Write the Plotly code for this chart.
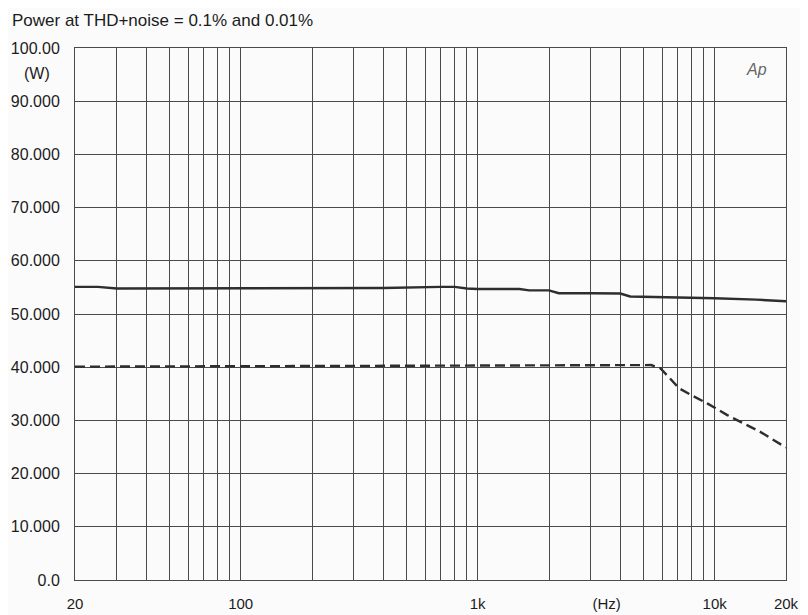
import plotly.graph_objects as go

# data
freq_solid = [20, 25, 30, 40, 60, 100, 200, 400, 700, 800, 900, 1000, 1500, 1650, 2000, 2200, 3000, 4000, 4400, 5000, 7000, 10000, 15000, 20000]
power_01 = [55.1, 55.1, 54.8, 54.8, 54.8, 54.9, 54.9, 54.9, 55.1, 55.1, 54.8, 54.7, 54.7, 54.45, 54.45, 53.9, 53.9, 53.85, 53.3, 53.25, 53.15, 52.95, 52.7, 52.4]
freq_dash = [20, 100, 1000, 3000, 5400, 5900, 7100, 8100, 9300, 11300, 15500, 20000]
power_001 = [40.1, 40.2, 40.3, 40.4, 40.4, 39.8, 36.0, 34.6, 33.2, 31.0, 27.9, 24.9]

x_tickvals = [20, 100, 1000, 3500, 10000, 20000]
x_ticktext = ["20", "100", "1k", "(Hz)", "10k", "20k"]
x_gridvals = [30, 40, 50, 60, 70, 80, 90, 100, 200, 300, 400, 500, 600, 700, 800, 900, 1000,
              2000, 3000, 4000, 5000, 6000, 7000, 8000, 9000, 10000]
y_tickvals = [0, 10, 20, 30, 40, 50, 60, 70, 80, 90, 100]
y_ticktext = ["0.0", "10.000", "20.000", "30.000", "40.000", "50.000", "60.000", "70.000", "80.000", "90.000", "100.00"]

title_text = "Power at THD+noise = 0.1% and 0.01%"

ink = "#1c1c1c"
grid = "#4a4a4a"
font = "Liberation Sans, Arial, sans-serif"

fig = go.Figure()
fig.add_trace(go.Scatter(x=freq_solid, y=power_01, mode="lines",
                         line=dict(color="#2e2e2e", width=2.4), xaxis="x", yaxis="y"))
fig.add_trace(go.Scatter(x=freq_dash, y=power_001, mode="lines",
                         line=dict(color="#2e2e2e", width=2.4, dash="10px,5px"), xaxis="x", yaxis="y"))
# invisible trace to activate grid axis
fig.add_trace(go.Scatter(x=[20, 20000], y=[0, 100], mode="markers", marker=dict(opacity=0),
                         xaxis="x2", yaxis="y", hoverinfo="skip"))

logmin, logmax = 1.30103, 4.30103
# page body has an 8px margin, so the figure is 800x607 and offset by 8px
fig.update_layout(
    width=800, height=607,
    margin=dict(l=67, r=22, t=40, b=35),
    paper_bgcolor="#fbfbfb", plot_bgcolor="#fbfbfb",
    showlegend=False,
    font=dict(family=font, color=ink, size=15),
    xaxis=dict(type="log", range=[logmin, logmax], tickmode="array", tickvals=x_tickvals,
               ticktext=x_ticktext, showgrid=False, zeroline=False, ticks="", automargin=False,
               ticklabelstandoff=10, showline=True, linecolor=grid, linewidth=1, mirror=True,
               tickfont=dict(size=15, family=font, color=ink)),
    xaxis2=dict(type="log", range=[logmin, logmax], overlaying="x", tickmode="array",
                tickvals=x_gridvals, showticklabels=False, showgrid=True, gridcolor=grid,
                gridwidth=1, ticks="", zeroline=False, automargin=False),
    yaxis=dict(range=[0, 100], tickmode="array", tickvals=y_tickvals, ticktext=y_ticktext,
               showgrid=True, gridcolor=grid, gridwidth=1, zeroline=False, ticks="", automargin=False,
               ticklabelstandoff=11, showline=True, linecolor=grid, linewidth=1, mirror=True,
               tickfont=dict(size=16, family=font, color=ink)),
    annotations=[
        dict(text=title_text, x=-65/711, y=1 + 28/532, xref="paper", yref="paper", showarrow=False,
             xanchor="left", yanchor="middle", font=dict(size=17, family=font, color=ink)),
        dict(text="(W)", x=-0.054, y=95.3, xref="paper", yref="y", showarrow=False,
             xanchor="center", yanchor="middle", font=dict(size=16, family=font, color=ink)),
        dict(text="<i>Ap</i>", x=0.976, y=96, xref="paper", yref="y", showarrow=False,
             xanchor="right", yanchor="middle", font=dict(size=16, family=font, color="#666666")),
    ],
)

fig.write_html("out.html")
